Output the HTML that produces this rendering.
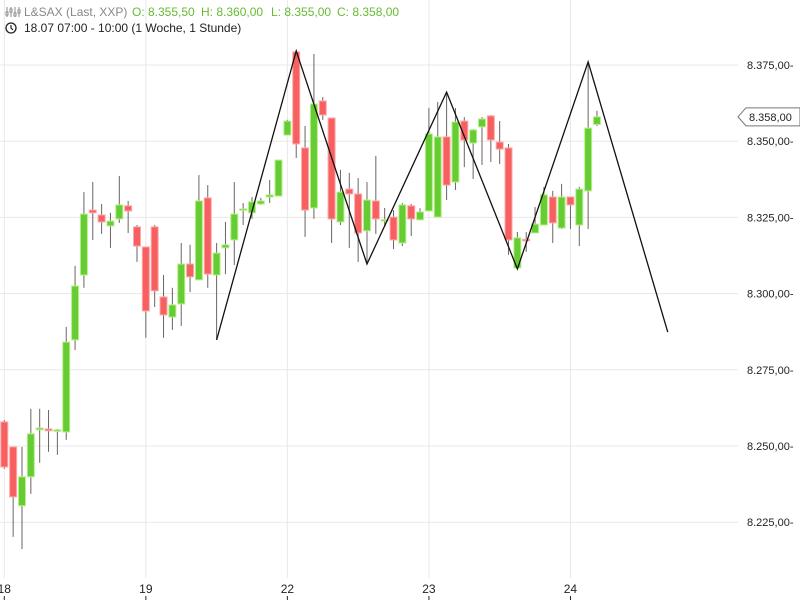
<!DOCTYPE html>
<html><head><meta charset="utf-8"><style>
body{margin:0;background:#fff;width:800px;height:600px;overflow:hidden;font-family:"Liberation Sans",sans-serif}
svg{display:block}
</style></head><body>
<svg id="chart" width="800" height="600"></svg>
<script>
const opens=[8257.9,8249.7,8230.4,8239.9,8255.3,8255.6,8254.9,8254.6,8284.8,8306.1,8327.4,8325.8,8322.2,8324.5,8328.8,8321.9,8315.3,8321.9,8298.9,8292.3,8296.6,8309.7,8304.5,8331.4,8306.1,8315,8317.6,8327.5,8326.5,8329.4,8331.7,8332,8352,8379.3,8347.8,8328.1,8363.2,8357.6,8323.5,8334.3,8332.7,8320.6,8330.4,8324,8325.1,8316.6,8328.8,8324.2,8327.1,8325.1,8351.4,8336.6,8356.6,8349.4,8354.7,8358.3,8349.7,8347.8,8308.4,8317.8,8319.9,8322.5,8331.7,8321.5,8331.7,8322.5,8333.7,8355.5];
const highs=[8258.5,8249.7,8249.7,8262.2,8262.2,8261.8,8255.6,8289.1,8309.1,8333.3,8336.6,8329.4,8326.5,8338.6,8330.4,8322.5,8315.3,8322.5,8306.1,8301.9,8316.6,8316,8338.9,8335.6,8316.6,8323.5,8336.6,8329.7,8331.7,8331.4,8337.3,8344,8357,8379.9,8355,8378.6,8364.5,8357.6,8340.6,8339.6,8337.9,8336.6,8345.2,8328.1,8327.4,8329.7,8329.4,8328,8360.9,8362.9,8366.1,8360.9,8357.9,8354,8357.9,8358.6,8356.6,8349.1,8320.2,8320.2,8328.4,8335,8333.7,8336,8331.7,8335,8375.7,8360];
const lows=[8242.5,8220.2,8216.2,8234.3,8244.5,8248.1,8247.1,8252,8281.5,8301.9,8317.6,8319.6,8315,8323.2,8319.9,8310.4,8285.5,8295.6,8285.5,8288.1,8289.4,8300.5,8304.5,8301.9,8284.8,8306.4,8309.4,8322.5,8324.5,8329.1,8329.7,8332,8352,8344.5,8318.6,8324.5,8357,8316.6,8322.5,8315,8310.4,8310.4,8319.6,8321.9,8314.6,8315.6,8318.9,8324,8327,8325,8330.7,8334,8341.5,8337.6,8342.2,8343.2,8342.5,8312.7,8308,8313.7,8319.9,8322.5,8316.6,8321.2,8321.2,8315.6,8321.2,8355];
const closes=[8243.1,8233.3,8239.9,8254,8255.9,8255,8255.3,8284.1,8302.5,8326.1,8326.5,8323.5,8323.8,8329.1,8327.1,8315.6,8294.3,8300.9,8293,8296.3,8309.7,8305.5,8330.4,8306.4,8313.3,8316,8326.1,8327.8,8330.1,8330.4,8332.4,8343.8,8356.6,8349.1,8327.4,8362.2,8358.6,8324.5,8333.3,8332.7,8319.9,8330.7,8324.5,8324.3,8317.6,8329.1,8324.5,8326.8,8352.4,8351.4,8335.6,8356.3,8350.4,8353.7,8357.3,8350.4,8347.4,8317.6,8318.3,8317.4,8322.8,8332.4,8323.2,8331.7,8329.1,8334.3,8354.3,8358];
const zigIdx=[24,33,41,50,58,66,75];
const zigVal=[8284.8,8379.6,8309.7,8366.1,8308.1,8376,8287.4];
const yTicks=[8375,8350,8325,8300,8275,8250,8225];
const yTickLabels=["8.375,00","8.350,00","8.325,00","8.300,00","8.275,00","8.250,00","8.225,00"];
const xTickIdx=[0,16,32,48,64];
const xTickLabels=["18","19","22","23","24"];
const lastPrice=8358;
const lastLabel="8.358,00";

const NS="http://www.w3.org/2000/svg";
const svg=document.getElementById('chart');
function x(i){return 4.3+i*8.846;}
function y(v){return 65+(8375-v)*3.048;}
function mk(tag,attrs,parent){const e=document.createElementNS(NS,tag);for(const k in attrs)e.setAttribute(k,attrs[k]);(parent||svg).appendChild(e);return e;}

const grid=mk('g',{});


yTicks.forEach((v,k)=>{
  const l=mk('line',{x1:0,x2:738,y1:y(v),y2:y(v),stroke:'#e8e8e8','stroke-width':1},grid);
  
  
  const t=mk('text',{x:747,y:y(v)+4,'font-size':11,fill:'#222'});
  t.textContent=yTickLabels[k]+'-';
  
  
});
xTickIdx.forEach((i,k)=>{
  const l=mk('line',{x1:x(i),x2:x(i),y1:0,y2:578,stroke:'#e8e8e8','stroke-width':1},grid);
  
  
  const tk=mk('line',{x1:x(i),x2:x(i),y1:596,y2:600,stroke:'#222','stroke-width':1});
  
  
  const t=mk('text',{x:x(i),y:593,'font-size':12,fill:'#222','text-anchor':'middle'});
  t.textContent=xTickLabels[k];
  
  
});

const cg=mk('g',{});


opens.forEach((o,i)=>{
  const c=closes[i],up=c>=o;
  const cx=x(i);
  const w=mk('line',{x1:cx,x2:cx,y1:y(highs[i]),y2:y(lows[i]),stroke:'#6b6363','stroke-width':1},cg);
  
  
  const top=y(Math.max(o,c)),bot=y(Math.min(o,c));
  const r=mk('rect',{x:cx-3.5,y:top,width:7,height:Math.max(bot-top,1.5),fill:up?'#66cc33':'#f76060',stroke:up?'#b8f08a':'#ffa8a8','stroke-width':1},cg);
  
  
});

const pts=zigIdx.map((i,k)=>x(i)+','+y(zigVal[k])).join(' ');
const zz=mk('polyline',{points:pts,fill:'none',stroke:'#111','stroke-width':1.3});



const ly=y(lastPrice);
const lb=mk('path',{d:`M738,${ly} L746,${ly-9} L800,${ly-9} L800,${ly+9} L746,${ly+9} Z`,fill:'#fff',stroke:'#777','stroke-width':1});


const lt=mk('text',{x:749,y:ly+4,'font-size':11,fill:'#222'});
lt.textContent=lastLabel;



const h1=mk('text',{x:24,y:16,'font-size':12,fill:'#888'});


h1.textContent='L&SAX (Last, XXP)';
[[132,'O: 8.355,50','open-value'],[201,'H: 8.360,00','high-value'],[271,'L: 8.355,00','low-value'],[337,'C: 8.358,00','close-value']].forEach(a=>{
  const t=mk('text',{x:a[0],y:16,'font-size':12,fill:'#66bb33'});
  t.textContent=a[1];
  
  
});
const ic=mk('g',{stroke:'#888','stroke-width':1});


[7,11,15,19].forEach((xx,k)=>{mk('line',{x1:xx,x2:xx,y1:7,y2:17},ic);mk('rect',{x:xx-1,y:[12,9,13,10][k],width:2,height:3,fill:'#fff'},ic);});
const clk=mk('g',{});


mk('circle',{cx:11,cy:28,r:5,fill:'none',stroke:'#222','stroke-width':1.3},clk);
mk('path',{d:'M11,25 L11,28 L13,30',fill:'none',stroke:'#222','stroke-width':1.2},clk);
const h2=mk('text',{x:24,y:32,'font-size':12,fill:'#222'});
h2.textContent='18.07 07:00 - 10:00 (1 Woche, 1 Stunde)';


</script>
</body></html>
